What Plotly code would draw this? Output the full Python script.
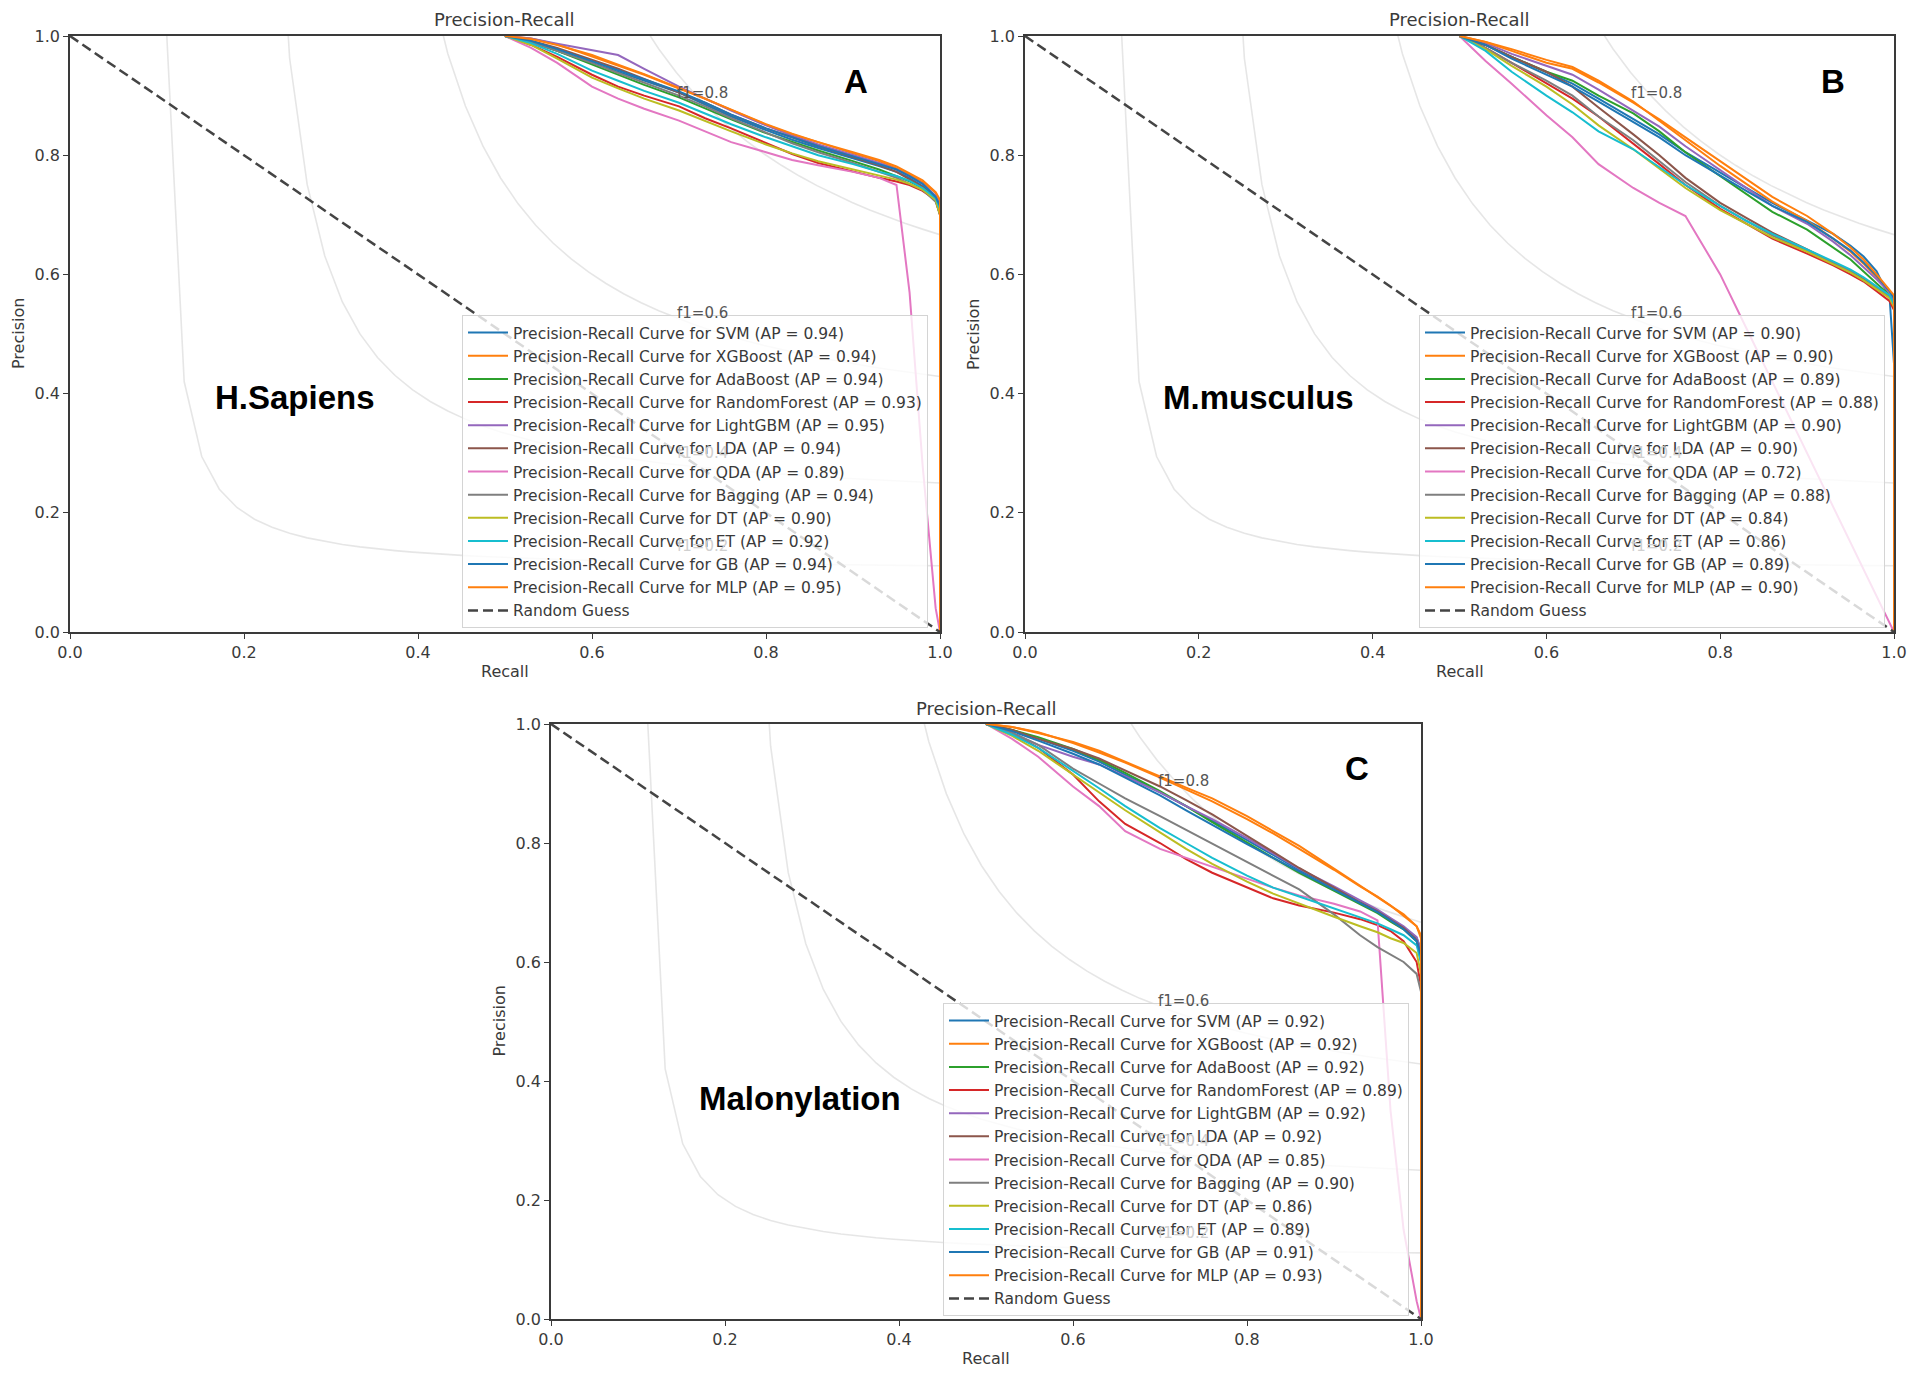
import numpy as np
import plotly.graph_objects as go

W, H = 1920, 1380

models = ["SVM", "XGBoost", "AdaBoost", "RandomForest", "LightGBM", "LDA",
          "QDA", "Bagging", "DT", "ET", "GB", "MLP"]
colors = ["#1f77b4", "#ff7f0e", "#2ca02c", "#d62728", "#9467bd", "#8c564b",
          "#e377c2", "#7f7f7f", "#bcbd22", "#17becf", "#1f77b4", "#ff7f0e"]

# recall points shared by all curves
recall = [0.50, 0.53, 0.56, 0.60, 0.63, 0.66, 0.70, 0.73, 0.76, 0.80,
          0.83, 0.86, 0.90, 0.93, 0.95, 0.965, 0.98, 0.995, 1.0, 1.0]

# average precision shown in the legends
ap_hs = [0.94, 0.94, 0.94, 0.93, 0.95, 0.94, 0.89, 0.94, 0.90, 0.92, 0.94, 0.95]
ap_mm = [0.90, 0.90, 0.89, 0.88, 0.90, 0.90, 0.72, 0.88, 0.84, 0.86, 0.89, 0.90]
ap_mal = [0.92, 0.92, 0.92, 0.89, 0.92, 0.92, 0.85, 0.90, 0.86, 0.89, 0.91, 0.93]

# precision per model, H.Sapiens
prec_hs = [
    [1.0, 0.99, 0.975, 0.955, 0.94, 0.925, 0.905, 0.885, 0.865, 0.842, 0.826, 0.812, 0.795, 0.782, 0.772, 0.762, 0.748, 0.728, 0.71, 0.0],
    [1.0, 0.996, 0.986, 0.966, 0.95, 0.935, 0.912, 0.895, 0.876, 0.851, 0.835, 0.822, 0.803, 0.79, 0.778, 0.768, 0.755, 0.737, 0.72, 0.0],
    [1.0, 0.99, 0.975, 0.952, 0.935, 0.918, 0.897, 0.878, 0.86, 0.837, 0.822, 0.808, 0.79, 0.776, 0.765, 0.756, 0.745, 0.73, 0.71, 0.0],
    [1.0, 0.985, 0.965, 0.935, 0.915, 0.9, 0.882, 0.862, 0.845, 0.82, 0.802, 0.787, 0.772, 0.762, 0.756, 0.75, 0.74, 0.725, 0.70, 0.0],
    [1.0, 0.996, 0.987, 0.976, 0.968, 0.945, 0.915, 0.895, 0.875, 0.85, 0.833, 0.818, 0.8, 0.787, 0.776, 0.765, 0.752, 0.732, 0.715, 0.0],
    [1.0, 0.992, 0.98, 0.96, 0.945, 0.928, 0.905, 0.888, 0.868, 0.845, 0.83, 0.815, 0.797, 0.783, 0.772, 0.76, 0.747, 0.725, 0.70, 0.0],
    [1.0, 0.98, 0.955, 0.915, 0.895, 0.878, 0.858, 0.84, 0.822, 0.805, 0.792, 0.783, 0.772, 0.762, 0.75, 0.57, 0.28, 0.04, 0.0, 0.0],
    [1.0, 0.99, 0.975, 0.955, 0.938, 0.922, 0.9, 0.882, 0.862, 0.838, 0.82, 0.805, 0.787, 0.772, 0.762, 0.752, 0.742, 0.722, 0.70, 0.0],
    [1.0, 0.985, 0.962, 0.93, 0.912, 0.895, 0.875, 0.857, 0.84, 0.818, 0.803, 0.79, 0.776, 0.766, 0.759, 0.752, 0.742, 0.725, 0.70, 0.0],
    [1.0, 0.988, 0.97, 0.942, 0.925, 0.908, 0.888, 0.87, 0.852, 0.83, 0.815, 0.8, 0.785, 0.772, 0.765, 0.757, 0.745, 0.728, 0.71, 0.0],
    [1.0, 0.992, 0.978, 0.958, 0.943, 0.928, 0.907, 0.888, 0.868, 0.845, 0.83, 0.815, 0.798, 0.785, 0.776, 0.765, 0.752, 0.73, 0.715, 0.0],
    [1.0, 0.995, 0.985, 0.968, 0.952, 0.936, 0.913, 0.895, 0.876, 0.852, 0.836, 0.822, 0.805, 0.792, 0.781, 0.77, 0.758, 0.738, 0.725, 0.0],
]

# precision per model, M.musculus
prec_mm = [
    [1.0, 0.985, 0.965, 0.94, 0.92, 0.895, 0.86, 0.835, 0.805, 0.77, 0.745, 0.72, 0.69, 0.668, 0.648, 0.63, 0.605, 0.56, 0.45, 0.0],
    [1.0, 0.99, 0.978, 0.96, 0.948, 0.925, 0.89, 0.858, 0.825, 0.782, 0.752, 0.722, 0.69, 0.66, 0.638, 0.618, 0.595, 0.57, 0.56, 0.0],
    [1.0, 0.985, 0.965, 0.94, 0.925, 0.9, 0.87, 0.84, 0.805, 0.765, 0.735, 0.705, 0.675, 0.645, 0.625, 0.605, 0.585, 0.565, 0.55, 0.0],
    [1.0, 0.98, 0.955, 0.92, 0.895, 0.865, 0.82, 0.785, 0.75, 0.71, 0.685, 0.66, 0.635, 0.615, 0.6, 0.588, 0.572, 0.555, 0.54, 0.0],
    [1.0, 0.988, 0.97, 0.95, 0.935, 0.91, 0.875, 0.848, 0.815, 0.775, 0.745, 0.715, 0.685, 0.655, 0.632, 0.612, 0.592, 0.57, 0.555, 0.0],
    [1.0, 0.985, 0.965, 0.94, 0.915, 0.88, 0.835, 0.8, 0.762, 0.72, 0.695, 0.67, 0.642, 0.62, 0.605, 0.592, 0.578, 0.562, 0.55, 0.0],
    [1.0, 0.958, 0.92, 0.867, 0.83, 0.785, 0.745, 0.72, 0.698, 0.60, 0.51, 0.42, 0.30, 0.21, 0.15, 0.105, 0.06, 0.015, 0.0, 0.0],
    [1.0, 0.98, 0.955, 0.925, 0.9, 0.865, 0.825, 0.79, 0.755, 0.715, 0.69, 0.665, 0.64, 0.62, 0.605, 0.59, 0.578, 0.562, 0.55, 0.0],
    [1.0, 0.978, 0.95, 0.915, 0.885, 0.85, 0.81, 0.778, 0.745, 0.708, 0.685, 0.662, 0.638, 0.617, 0.603, 0.59, 0.575, 0.56, 0.545, 0.0],
    [1.0, 0.975, 0.94, 0.9, 0.872, 0.84, 0.81, 0.78, 0.75, 0.715, 0.69, 0.668, 0.642, 0.622, 0.608, 0.595, 0.58, 0.565, 0.55, 0.0],
    [1.0, 0.985, 0.962, 0.935, 0.915, 0.89, 0.855, 0.83, 0.8, 0.765, 0.74, 0.715, 0.688, 0.66, 0.64, 0.62, 0.598, 0.572, 0.56, 0.0],
    [1.0, 0.99, 0.975, 0.955, 0.945, 0.922, 0.888, 0.86, 0.83, 0.79, 0.76, 0.73, 0.698, 0.668, 0.645, 0.625, 0.6, 0.575, 0.565, 0.0],
]

# precision per model, Malonylation
prec_mal = [
    [1.0, 0.99, 0.975, 0.955, 0.937, 0.915, 0.885, 0.862, 0.838, 0.805, 0.78, 0.755, 0.725, 0.7, 0.685, 0.672, 0.658, 0.64, 0.62, 0.0],
    [1.0, 0.995, 0.985, 0.97, 0.955, 0.937, 0.912, 0.893, 0.875, 0.845, 0.82, 0.795, 0.757, 0.728, 0.71, 0.695, 0.68, 0.66, 0.645, 0.0],
    [1.0, 0.99, 0.978, 0.958, 0.94, 0.918, 0.887, 0.862, 0.835, 0.8, 0.775, 0.75, 0.72, 0.697, 0.682, 0.668, 0.655, 0.635, 0.6, 0.0],
    [1.0, 0.985, 0.96, 0.915, 0.87, 0.832, 0.8, 0.773, 0.75, 0.725, 0.707, 0.695, 0.683, 0.672, 0.662, 0.652, 0.635, 0.6, 0.56, 0.0],
    [1.0, 0.985, 0.965, 0.945, 0.932, 0.912, 0.885, 0.862, 0.84, 0.808, 0.782, 0.757, 0.727, 0.703, 0.688, 0.674, 0.66, 0.642, 0.62, 0.0],
    [1.0, 0.99, 0.975, 0.958, 0.942, 0.922, 0.895, 0.872, 0.848, 0.812, 0.785, 0.758, 0.725, 0.7, 0.685, 0.671, 0.657, 0.637, 0.61, 0.0],
    [1.0, 0.975, 0.945, 0.895, 0.862, 0.82, 0.79, 0.775, 0.76, 0.74, 0.725, 0.712, 0.698, 0.685, 0.67, 0.35, 0.15, 0.03, 0.0, 0.0],
    [1.0, 0.985, 0.965, 0.925, 0.9, 0.875, 0.845, 0.822, 0.8, 0.768, 0.745, 0.722, 0.68, 0.645, 0.625, 0.612, 0.6, 0.58, 0.55, 0.0],
    [1.0, 0.98, 0.955, 0.915, 0.885, 0.855, 0.818, 0.79, 0.765, 0.735, 0.715, 0.698, 0.676, 0.66, 0.65, 0.64, 0.632, 0.615, 0.58, 0.0],
    [1.0, 0.982, 0.96, 0.922, 0.892, 0.862, 0.825, 0.8, 0.775, 0.745, 0.725, 0.71, 0.69, 0.675, 0.665, 0.655, 0.645, 0.628, 0.60, 0.0],
    [1.0, 0.988, 0.972, 0.95, 0.932, 0.91, 0.88, 0.855, 0.83, 0.798, 0.775, 0.752, 0.722, 0.698, 0.684, 0.67, 0.655, 0.635, 0.61, 0.0],
    [1.0, 0.995, 0.986, 0.968, 0.952, 0.935, 0.91, 0.89, 0.87, 0.84, 0.816, 0.79, 0.755, 0.727, 0.71, 0.695, 0.678, 0.66, 0.64, 0.0],
]

f1_levels = [0.2, 0.4, 0.6, 0.8]

FONT = "DejaVu Sans"
TXT = "#3a3a3a"


def px(x):
    return x / W


def py(y):
    return 1 - y / H


# panel boxes in pixels: left, right, top, bottom
panels = [
    dict(ax="", box=(70, 940, 36, 632), prec=prec_hs, ap=ap_hs, leg="legend",
         name="H.Sapiens", letter="A", name_xy=(295, 397), letter_xy=(856, 82),
         leg_xy=(462, 315)),
    dict(ax="2", box=(1025, 1894, 36, 632), prec=prec_mm, ap=ap_mm, leg="legend2",
         name="M.musculus", letter="B", name_xy=(1258, 397), letter_xy=(1833, 82),
         leg_xy=(1419, 315)),
    dict(ax="3", box=(551, 1421, 724, 1319), prec=prec_mal, ap=ap_mal, leg="legend3",
         name="Malonylation", letter="C", name_xy=(800, 1098), letter_xy=(1357, 768),
         leg_xy=(943, 1003)),
]

fig = go.Figure()
annotations = []
layout = dict(
    width=W, height=H, autosize=False,
    margin=dict(l=0, r=0, t=0, b=0),
    paper_bgcolor="white", plot_bgcolor="white",
    font=dict(family=FONT, size=15, color=TXT),
)

xs = np.linspace(0.01, 1)


def note(text, x, y, size, **kw):
    d = dict(text=text, x=px(x), y=py(y), xref="paper", yref="paper",
             xanchor="center", yanchor="middle", showarrow=False,
             font=dict(size=size, color=kw.pop("color", TXT), family=kw.pop("family", FONT)))
    d.update(kw)
    return d


for k, p in enumerate(panels):
    xa, ya = "x" + p["ax"], "y" + p["ax"]
    l, r, t, b = p["box"]

    # iso-f1 curves
    for f in f1_levels:
        ys = f * xs / (2 * xs - f)
        m = ys >= 0
        fig.add_trace(go.Scatter(x=xs[m], y=ys[m], mode="lines", xaxis=xa, yaxis=ya,
                                 line=dict(color="rgba(128,128,128,0.2)", width=1.6),
                                 showlegend=False, hoverinfo="skip"))

    for i, mname in enumerate(models):
        fig.add_trace(go.Scatter(
            x=recall, y=p["prec"][i], mode="lines", xaxis=xa, yaxis=ya,
            line=dict(color=colors[i], width=2),
            name=f"Precision-Recall Curve for {mname} (AP = {p['ap'][i]:.2f})",
            legend=p["leg"],
        ))

    fig.add_trace(go.Scatter(
        x=[0, 1], y=[1, 0], mode="lines", xaxis=xa, yaxis=ya,
        line=dict(color="#444444", width=2.5, dash="10px,5px"),
        name="Random Guess", legend=p["leg"],
    ))

    axis_common = dict(
        range=[0, 1], showgrid=False, zeroline=False, showline=True, mirror=True,
        linecolor="#3a3a3a", linewidth=1.5, ticks="outside", ticklen=5,
        tickcolor="#3a3a3a", tickwidth=1.2,
        tickvals=[0, 0.2, 0.4, 0.6, 0.8, 1.0],
        ticktext=["0.0", "0.2", "0.4", "0.6", "0.8", "1.0"],
        tickfont=dict(family=FONT, size=16, color=TXT), automargin=False,
    )
    layout["xaxis" + p["ax"]] = dict(axis_common, domain=[px(l), px(r)], anchor=ya)
    layout["yaxis" + p["ax"]] = dict(axis_common, domain=[py(b), py(t)], anchor=xa)

    lx, ly = p["leg_xy"]
    layout[p["leg"]] = dict(
        x=px(lx), y=py(ly), xanchor="left", yanchor="top", xref="paper", yref="paper",
        bgcolor="rgba(255,255,255,0.8)", bordercolor="#d4d4d4", borderwidth=1,
        font=dict(family=FONT, size=15.5, color=TXT), tracegroupgap=0,
        itemwidth=40,
    )

    cx = (l + r) / 2
    cy = (t + b) / 2
    # subplot title and axis titles
    annotations.append(note("Precision-Recall", cx, t - 16, 18))
    annotations.append(note("Recall", cx, b + 39, 16))
    annotations.append(note("Precision", l - 52, cy, 16, textangle=-90))
    # big labels
    nx, ny = p["name_xy"]
    annotations.append(note(f"<b>{p['name']}</b>", nx, ny, 33, color="black",
                            family="Liberation Sans"))
    lx2, ly2 = p["letter_xy"]
    annotations.append(note(f"<b>{p['letter']}</b>", lx2, ly2, 33, color="black",
                            family="Liberation Sans"))
    # iso-f1 labels (0.2 and 0.4 sit under the legend, hence faded)
    for f, yl, col in zip(f1_levels, [0.145, 0.30, 0.535, 0.905],
                          ["#d0d0d0", "#d0d0d0", "#555555", "#555555"]):
        annotations.append(dict(text=f"f1={f:0.1f}", x=0.695, y=yl, xref=xa, yref=ya,
                                xanchor="left", yanchor="middle", showarrow=False,
                                font=dict(family=FONT, size=15, color=col)))

layout["annotations"] = annotations
fig.update_layout(**layout)
fig.write_html("out.html", config={"displayModeBar": False},
               post_script="document.body.style.margin='0';document.body.style.overflow='hidden';")
